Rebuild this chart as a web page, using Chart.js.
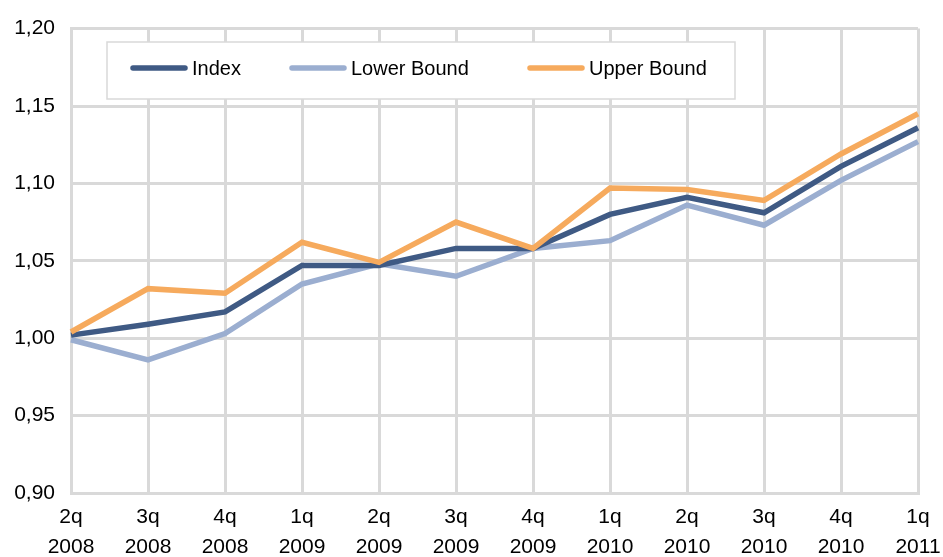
<!DOCTYPE html>
<html>
<head>
<meta charset="utf-8">
<script src="https://cdn.jsdelivr.net/npm/chart.js@4.4.1/dist/chart.umd.min.js"></script>
<style>
  html, body { margin: 0; padding: 0; background: #ffffff; }
  #wrap { width: 943px; height: 557px; }
</style>
</head>
<body>
<div id="wrap"><canvas id="chart" width="943" height="557"></canvas></div>
<script>
// Quarterly index with its lower and upper bounds
const quarters = [
  ['2q', '2008'], ['3q', '2008'], ['4q', '2008'],
  ['1q', '2009'], ['2q', '2009'], ['3q', '2009'], ['4q', '2009'],
  ['1q', '2010'], ['2q', '2010'], ['3q', '2010'], ['4q', '2010'],
  ['1q', '2011']
];
const indexValues = [1.002, 1.009, 1.017, 1.047, 1.047, 1.058, 1.058, 1.080, 1.091, 1.081, 1.111, 1.136];
const lowerBound  = [0.999, 0.986, 1.003, 1.035, 1.048, 1.040, 1.058, 1.063, 1.086, 1.073, 1.102, 1.127];
const upperBound  = [1.004, 1.032, 1.029, 1.062, 1.049, 1.075, 1.058, 1.097, 1.096, 1.089, 1.119, 1.145];
const seriesNames = ['Index', 'Lower Bound', 'Upper Bound'];
const yMin = 0.90, yMax = 1.20, yStep = 0.05;

const FONT = '"Liberation Sans", Arial, sans-serif';
const GRID = '#d9d9d9';
const COLORS = ['#3f5a84', '#9baed0', '#f6aa5d'];

// Legend drawn as a framed box inside the plot area
const boxedLegend = {
  id: 'boxedLegend',
  afterDatasetsDraw(chart) {
    const ctx = chart.ctx;
    const box = { x: 107, y: 42, w: 628, h: 57 };
    const itemX = [130, 289, 527];
    const sample = 58;
    ctx.save();
    ctx.fillStyle = '#ffffff';
    ctx.fillRect(box.x, box.y, box.w, box.h);
    ctx.strokeStyle = GRID;
    ctx.lineWidth = 1.5;
    ctx.strokeRect(box.x, box.y, box.w, box.h);
    const cy = box.y + 26;
    chart.data.datasets.forEach((ds, i) => {
      const x = itemX[i];
      ctx.strokeStyle = ds.borderColor;
      ctx.lineWidth = 5.5;
      ctx.lineCap = 'round';
      ctx.beginPath();
      ctx.moveTo(x + 3, cy);
      ctx.lineTo(x + sample - 3, cy);
      ctx.stroke();
      ctx.fillStyle = '#000000';
      ctx.font = '20px ' + FONT;
      ctx.textBaseline = 'middle';
      ctx.textAlign = 'left';
      ctx.fillText(ds.label, x + sample + 4, cy + 1);
    });
    ctx.restore();
  }
};

const makeSet = (label, data, color, order) => ({
  label, data,
  borderColor: color,
  backgroundColor: color,
  borderWidth: 5.5,
  pointRadius: 0,
  pointHoverRadius: 0,
  tension: 0,
  fill: false,
  borderJoinStyle: 'miter',
  borderCapStyle: 'butt',
  order
});

new Chart(document.getElementById('chart'), {
  type: 'line',
  data: {
    labels: quarters,
    datasets: [
      makeSet(seriesNames[0], indexValues, COLORS[0], 1),
      makeSet(seriesNames[1], lowerBound, COLORS[1], 2),
      makeSet(seriesNames[2], upperBound, COLORS[2], 0)
    ]
  },
  options: {
    responsive: false,
    animation: false,
    events: [],
    layout: { padding: { top: 25, right: 25, left: 0, bottom: 0 } },
    plugins: {
      legend: { display: false },
      tooltip: { enabled: false }
    },
    scales: {
      x: {
        offset: false,
        grid: { color: GRID, lineWidth: 3, drawTicks: false },
        border: { color: GRID, width: 3 },
        ticks: {
          color: '#000000',
          font: { family: FONT, size: 21, lineHeight: 1.4 },
          padding: 10,
          maxRotation: 0,
          autoSkip: false
        },
        afterFit(scale) {
          scale.height = 64;
          scale.paddingLeft = 0;
          scale.paddingRight = 0;
        }
      },
      y: {
        min: yMin,
        max: yMax,
        grid: { color: GRID, lineWidth: 3, drawTicks: false },
        border: { color: GRID, width: 3 },
        ticks: {
          stepSize: yStep,
          color: '#000000',
          font: { family: FONT, size: 21 },
          padding: 16,
          callback: v => Number(v).toFixed(2).replace('.', ',')
        },
        afterFit(scale) {
          scale.width = 71;
        }
      }
    }
  },
  plugins: [boxedLegend]
});
</script>
</body>
</html>
